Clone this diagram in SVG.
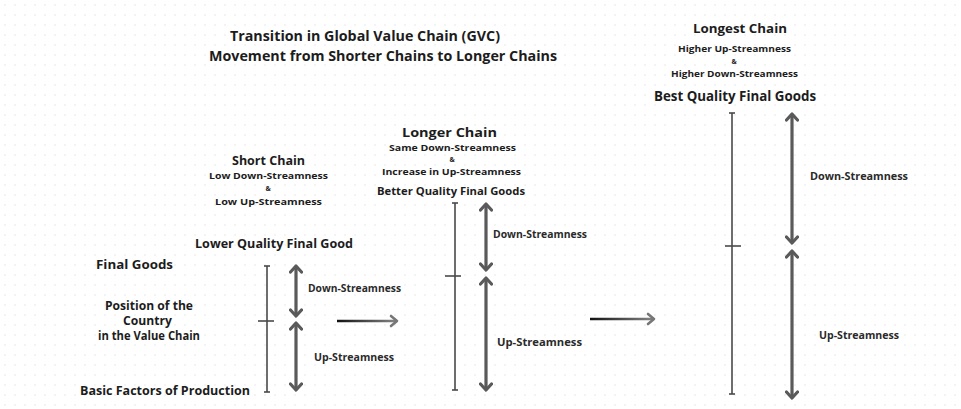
<svg xmlns="http://www.w3.org/2000/svg" width="961" height="409" viewBox="0 0 961 409">
<style>
  text { font-family: "Open Sans", "Liberation Sans", sans-serif; font-weight: 700; fill: #1c1c1c; text-anchor: middle; }
  .t1 { font-size: 14px; }
  .h { font-size: 13px; }
  .s { font-size: 9.5px; }
  .amp { font-size: 7px; }
  .lab { font-size: 10.5px; fill: #2a2a2a; }
  .ax { stroke: #4a4a4a; stroke-width: 1.6; fill: none; }
  .dbl { stroke: #5a5a5a; stroke-width: 3.2; fill: none; }
  .mv { stroke-width: 2.6; fill: none; }
</style>
<defs>
  <pattern id="dots" width="10" height="10" patternUnits="userSpaceOnUse">
    <circle cx="5" cy="5" r="0.8" fill="#e3e3e3"/>
  </pattern>
  <marker id="chev" viewBox="0 0 12 14" refX="10" refY="7" markerWidth="12" markerHeight="14" markerUnits="userSpaceOnUse" orient="auto-start-reverse">
    <path d="M4,1.5 L10,7 L4,12.5" fill="none" stroke="#5a5a5a" stroke-width="3.2" stroke-linecap="round" stroke-linejoin="round"/>
  </marker>
  <marker id="chevH" viewBox="0 0 12 14" refX="10" refY="7" markerWidth="12" markerHeight="14" markerUnits="userSpaceOnUse" orient="auto">
    <path d="M4,2 L10,7 L4,12" fill="none" stroke="#777" stroke-width="2.6" stroke-linecap="round" stroke-linejoin="round"/>
  </marker>
  <linearGradient id="g1" gradientUnits="userSpaceOnUse" x1="337" y1="0" x2="398" y2="0">
    <stop offset="0" stop-color="#111"/>
    <stop offset="1" stop-color="#888"/>
  </linearGradient>
  <linearGradient id="g2" gradientUnits="userSpaceOnUse" x1="590" y1="0" x2="655" y2="0">
    <stop offset="0" stop-color="#111"/>
    <stop offset="1" stop-color="#888"/>
  </linearGradient>
</defs>
<rect width="961" height="409" fill="#ffffff"/>
<rect width="961" height="409" fill="url(#dots)"/>

<g id="title">
  <text class="t1" x="365" y="41" textLength="270" lengthAdjust="spacingAndGlyphs">Transition in Global Value Chain (GVC)</text>
  <text class="t1" x="383" y="61" textLength="348" lengthAdjust="spacingAndGlyphs">Movement from Shorter Chains to Longer Chains</text>
</g>

<g id="axis-labels">
  <text style="font-size:12.5px" x="134.5" y="269" textLength="77" lengthAdjust="spacingAndGlyphs">Final Goods</text>
  <text style="font-size:11.5px" x="149" y="310" textLength="88" lengthAdjust="spacingAndGlyphs">Position of the</text>
  <text style="font-size:11.5px" x="147.5" y="325" textLength="49" lengthAdjust="spacingAndGlyphs">Country</text>
  <text style="font-size:11.5px" x="149" y="340" textLength="102" lengthAdjust="spacingAndGlyphs">in the Value Chain</text>
  <text style="font-size:13px" x="165" y="395" textLength="170" lengthAdjust="spacingAndGlyphs">Basic Factors of Production</text>
</g>

<g id="short-chain">
  <text style="font-size:12.5px" x="268.5" y="164.5" textLength="73" lengthAdjust="spacingAndGlyphs">Short Chain</text>
  <text class="s" x="268.5" y="178.5" textLength="119" lengthAdjust="spacingAndGlyphs">Low Down-Streamness</text>
  <text class="amp" x="268" y="191">&amp;</text>
  <text class="s" x="268.5" y="205" textLength="107" lengthAdjust="spacingAndGlyphs">Low Up-Streamness</text>
  <text style="font-size:12.5px" x="274" y="248" textLength="158" lengthAdjust="spacingAndGlyphs">Lower Quality Final Good</text>
  <line class="ax" x1="267" y1="266" x2="267" y2="392"/>
  <line class="ax" x1="264" y1="266" x2="270" y2="266"/>
  <line class="ax" x1="264" y1="392" x2="270" y2="392"/>
  <line class="ax" x1="258" y1="321" x2="274" y2="321"/>
  <line class="dbl" x1="296" y1="266" x2="296" y2="316" marker-start="url(#chev)" marker-end="url(#chev)"/>
  <line class="dbl" x1="296" y1="323" x2="296" y2="390" marker-start="url(#chev)" marker-end="url(#chev)"/>
  <text class="lab" x="354.5" y="292" textLength="93" lengthAdjust="spacingAndGlyphs">Down-Streamness</text>
  <text class="lab" x="354" y="361" textLength="80" lengthAdjust="spacingAndGlyphs">Up-Streamness</text>
</g>

<g id="longer-chain">
  <text class="h" x="449.5" y="137" textLength="95" lengthAdjust="spacingAndGlyphs">Longer Chain</text>
  <text class="s" x="452.5" y="151" textLength="127" lengthAdjust="spacingAndGlyphs">Same Down-Streamness</text>
  <text class="amp" x="452" y="162">&amp;</text>
  <text class="s" x="451.5" y="175" textLength="139" lengthAdjust="spacingAndGlyphs">Increase in Up-Streamness</text>
  <text style="font-size:11px" x="451" y="195" textLength="148" lengthAdjust="spacingAndGlyphs">Better Quality Final Goods</text>
  <line class="ax" x1="455" y1="203" x2="455" y2="390"/>
  <line class="ax" x1="452" y1="203" x2="458" y2="203"/>
  <line class="ax" x1="452" y1="390" x2="458" y2="390"/>
  <line class="ax" x1="445" y1="276" x2="461" y2="276"/>
  <line class="dbl" x1="486" y1="204" x2="486" y2="270" marker-start="url(#chev)" marker-end="url(#chev)"/>
  <line class="dbl" x1="486" y1="278" x2="486" y2="390" marker-start="url(#chev)" marker-end="url(#chev)"/>
  <text class="lab" x="540" y="238" textLength="94" lengthAdjust="spacingAndGlyphs">Down-Streamness</text>
  <text class="lab" x="539.5" y="346" textLength="85" lengthAdjust="spacingAndGlyphs">Up-Streamness</text>
</g>

<g id="longest-chain">
  <text class="h" x="740" y="33" textLength="94" lengthAdjust="spacingAndGlyphs">Longest Chain</text>
  <text class="s" x="734.5" y="52" textLength="113" lengthAdjust="spacingAndGlyphs">Higher Up-Streamness</text>
  <text class="amp" x="734" y="64">&amp;</text>
  <text class="s" x="734.5" y="77" textLength="127" lengthAdjust="spacingAndGlyphs">Higher Down-Streamness</text>
  <text style="font-size:13.5px" x="735" y="101" textLength="162" lengthAdjust="spacingAndGlyphs">Best Quality Final Goods</text>
  <line class="ax" x1="732" y1="113" x2="732" y2="394"/>
  <line class="ax" x1="729" y1="113" x2="735" y2="113"/>
  <line class="ax" x1="729" y1="394" x2="735" y2="394"/>
  <line class="ax" x1="725" y1="246" x2="741" y2="246"/>
  <line class="dbl" x1="792" y1="114" x2="792" y2="243" marker-start="url(#chev)" marker-end="url(#chev)"/>
  <line class="dbl" x1="792" y1="251" x2="792" y2="398" marker-start="url(#chev)" marker-end="url(#chev)"/>
  <text class="lab" x="859" y="180" textLength="98" lengthAdjust="spacingAndGlyphs">Down-Streamness</text>
  <text class="lab" x="859" y="339" textLength="80" lengthAdjust="spacingAndGlyphs">Up-Streamness</text>
</g>

<g id="connectors">
  <line class="mv" x1="337" y1="321" x2="397" y2="321" stroke="url(#g1)" marker-end="url(#chevH)"/>
  <line class="mv" x1="590" y1="319" x2="654" y2="319" stroke="url(#g2)" marker-end="url(#chevH)"/>
</g>
</svg>
